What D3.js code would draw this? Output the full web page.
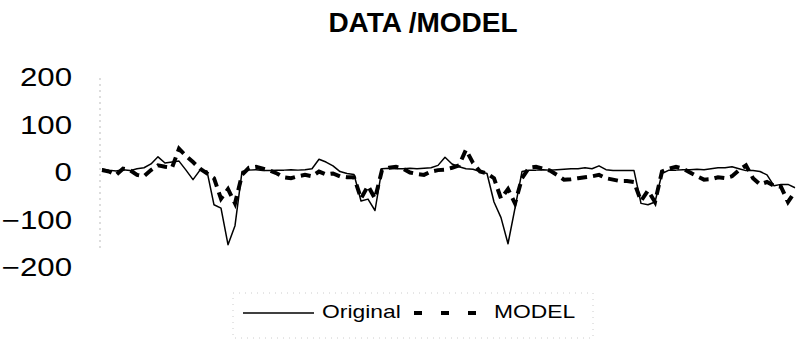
<!DOCTYPE html>
<html>
<head>
<meta charset="utf-8">
<script src="https://cdn.jsdelivr.net/npm/d3@7"></script>
<style>
  body { margin: 0; background: #fff; }
  svg { display: block; font-family: Arial, "Liberation Sans", sans-serif; }
</style>
</head>
<body>
<div id="chart"></div>
<script>
// values, one point per step
const original = [
  8, 5, 3, 6, 4, 8, 10, 18, 33, 20,
  22, 24, 5, -15, 5, 3, -68, -75, -152, -112,
  2, 5, 6, 4, 4, 5, 5, 6, 5, 6,
  8, 28, 22, 14, 2, -2, -4, -60, -56, -80,
  8, 9, 8, 8, 9, 8, 9, 10, 15, 32,
  18, 12, 8, 7, 2, -2, -62, -95, -150, -75,
  2, 5, 5, 6, 5, 6, 7, 8, 8, 10,
  8, 14, 6, 4, 4, 4, 4, -65, -68, -62,
  -2, 5, 5, 6, 6, 7, 6, 8, 10, 10,
  12, 8, 4, 4, 2, -5, -28, -25, -25, -32
];
const model = [
  5, 2, -5, 8, 5, -5, -8, 5, 15, 12,
  10, 50, 35, 22, 8, -2, -12, -55, -35, -65,
  -5, 10, 12, 8, 4, -2, -10, -12, -8, -5,
  -8, 2, -4, -2, -8, -10, -10, -55, -28, -55,
  5, 10, 12, 8, 0, -3, -5, 2, 5, 6,
  10, 15, 48, 20, 2, -2, -12, -55, -35, -65,
  -12, 10, 12, 8, 4, -5, -15, -14, -12, -10,
  -8, -5, -12, -15, -18, -18, -20, -60, -38, -62,
  2, 8, 12, 8, 0, -8, -15, -14, -10, -12,
  -8, 5, 15, -12, -25, -20, -28, -30, -62, -40
];
const yTicks = [200, 100, 0, -100, -200];
const seriesNames = ["Original", "MODEL"];
const title = "DATA /MODEL";

const width = 802, height = 346;
const svg = d3.select("#chart").append("svg")
  .attr("width", width)
  .attr("height", height);

const x = d3.scaleLinear().domain([0, original.length - 1]).range([102, 795]);
const y = d3.scaleLinear().domain([-200, 200]).range([267.5, 77.5]);

// title
svg.append("text")
  .attr("x", 423).attr("y", 32)
  .attr("text-anchor", "middle")
  .attr("font-size", 28).attr("font-weight", "bold")
  .text(title);

// faint dotted axis line
svg.append("line")
  .attr("x1", 100).attr("x2", 100)
  .attr("y1", 78).attr("y2", 252)
  .attr("stroke", "#bbb").attr("stroke-width", 1)
  .attr("stroke-dasharray", "2,4");

// y axis labels
const yAxis = svg.append("g")
  .attr("transform", "translate(72,0)")
  .call(d3.axisLeft(y).tickValues(yTicks).tickSize(0).tickPadding(0).tickFormat(d3.format("d")));
yAxis.select(".domain").remove();
yAxis.selectAll("text")
  .attr("font-size", 25)
  .attr("font-family", "Arial, 'Liberation Sans', sans-serif")
  .attr("fill", "#000")
  .attr("transform", "scale(1.25,1)");

// series
const line = d3.line().x((d, i) => x(i)).y(d => y(d));

svg.append("path")
  .datum(original)
  .attr("d", line)
  .attr("fill", "none")
  .attr("stroke", "#000")
  .attr("stroke-width", 1.5)
  .attr("stroke-linejoin", "round");

svg.append("path")
  .datum(model)
  .attr("d", line)
  .attr("fill", "none")
  .attr("stroke", "#000")
  .attr("stroke-width", 4)
  .attr("stroke-dasharray", "10,6");

// legend
const legend = svg.append("g");
legend.append("rect")
  .attr("x", 233).attr("y", 293).attr("width", 360).attr("height", 45)
  .attr("fill", "none").attr("stroke", "#ccc")
  .attr("stroke-dasharray", "1,5");

legend.append("line")
  .attr("x1", 243).attr("x2", 314).attr("y1", 313).attr("y2", 313)
  .attr("stroke", "#000").attr("stroke-width", 1.5);
legend.append("g").attr("transform", "translate(322,318)")
  .append("text").attr("font-size", 18).attr("transform", "scale(1.27,1)")
  .text(seriesNames[0]);

legend.append("line")
  .attr("x1", 414).attr("x2", 492).attr("y1", 313).attr("y2", 313)
  .attr("stroke", "#000").attr("stroke-width", 4)
  .attr("stroke-dasharray", "8,19");
legend.append("g").attr("transform", "translate(494,318)")
  .append("text").attr("font-size", 18).attr("transform", "scale(1.27,1)")
  .text(seriesNames[1]);
</script>
</body>
</html>
